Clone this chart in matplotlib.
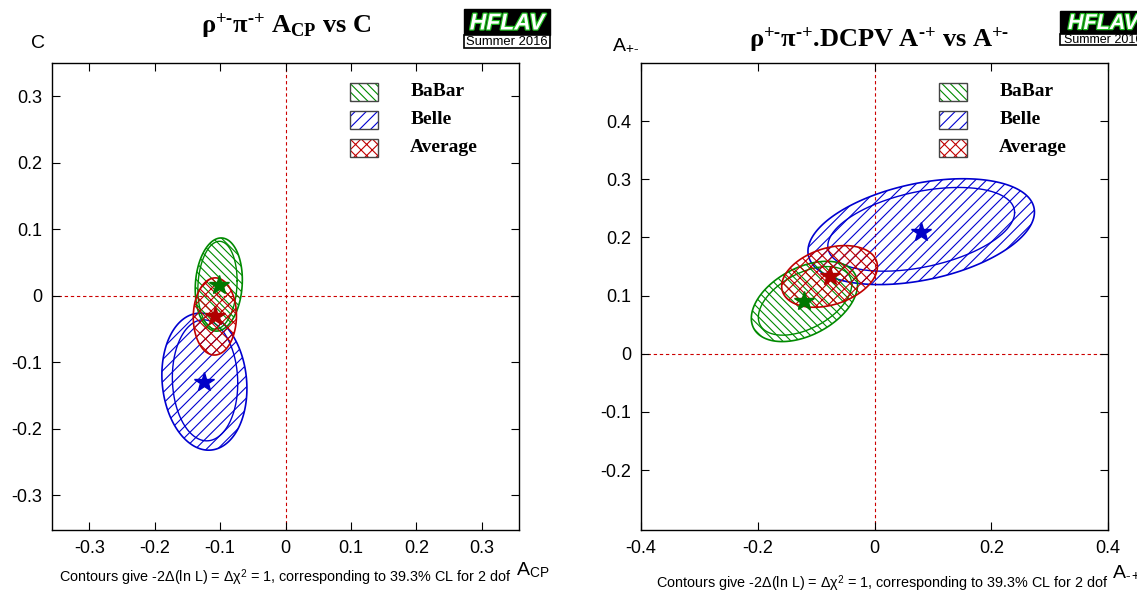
import matplotlib
matplotlib.use('Agg')
import matplotlib.pyplot as plt
import numpy as np
from matplotlib.patches import Rectangle
from matplotlib.ticker import FuncFormatter
import matplotlib.patheffects as pe

plt.rcParams['font.family'] = ['Liberation Sans', 'DejaVu Sans']
plt.rcParams['mathtext.fontset'] = 'custom'
plt.rcParams['mathtext.rm'] = 'Liberation Serif:bold'
plt.rcParams['mathtext.bf'] = 'Liberation Serif:bold'
plt.rcParams['mathtext.it'] = 'Liberation Serif:italic:bold'
plt.rcParams['mathtext.sf'] = 'Liberation Sans'
plt.rcParams['hatch.linewidth'] = 0.8

# experiments
labels = ['BaBar', 'Belle', 'Average']
colors = ['#008a00', '#0000d0', '#c00000']
star_colors = ['#007800', '#0000c8', '#b00000']
hatches = ['\\\\\\\\', '///', 'xxx']

# left plot: A_CP vs C (value, error, correlation)
acp_val = [-0.102, -0.124, -0.108]
c_val = [0.017, -0.129, -0.031]
acp_err = [0.036, 0.065, 0.033]
c_err = [0.070, 0.103, 0.058]
rho_left = [0.10, -0.10, 0.02]
# stat-only contours (BaBar, Belle)
acp_stat_ctr = [-0.104, -0.123]
c_stat_ctr = [0.016, -0.127]
acp_stat = [0.030, 0.050]
c_stat = [0.066, 0.091]
rho_left_stat = [0.10, -0.05]

# right plot: A^-+ (x) vs A^+- (y)
amp_val = [-0.120, 0.080, -0.077]
apm_val = [0.090, 0.210, 0.133]
amp_err = [0.091, 0.194, 0.082]
apm_err = [0.069, 0.091, 0.053]
rho_right = [0.42, 0.37, 0.32]
amp_stat_ctr = [-0.119, 0.080]
apm_stat_ctr = [0.091, 0.214]
amp_stat = [0.080, 0.160]
apm_stat = [0.059, 0.072]
rho_right_stat = [0.48, 0.40]

left_xticks = [-0.3, -0.2, -0.1, 0, 0.1, 0.2, 0.3]
left_yticks = [-0.3, -0.2, -0.1, 0, 0.1, 0.2, 0.3]
right_xticks = [-0.4, -0.2, 0, 0.2, 0.4]
right_yticks = [-0.2, -0.1, 0, 0.1, 0.2, 0.3, 0.4]

footnote = 'Contours give -2\u0394(ln L) = \u0394\u03c7$^{\\mathsf{2}}$ = 1, corresponding to 39.3% CL for 2 dof'


def ellipse(x0, y0, sx, sy, rho):
    t = np.linspace(0, 2 * np.pi, 300)
    x = x0 + sx * np.cos(t)
    y = y0 + sy * (rho * np.cos(t) + np.sqrt(1 - rho ** 2) * np.sin(t))
    return x, y


W, H = 1137, 591
fig = plt.figure(figsize=(W / 100, H / 100), dpi=100)
ax1 = fig.add_axes([52 / W, (H - 530) / H, 467 / W, 467 / H])
ax2 = fig.add_axes([641 / W, (H - 530) / H, 467 / W, 467 / H])

fmt = FuncFormatter(lambda v, p: '0' if abs(v) < 1e-9 else f'{v:g}')


def setup(ax, xl, yl, xt, yt):
    ax.set_xlim(*xl)
    ax.set_ylim(*yl)
    ax.set_xticks(xt)
    ax.set_yticks(yt)
    ax.xaxis.set_major_formatter(fmt)
    ax.yaxis.set_major_formatter(fmt)
    ax.tick_params(direction='in', top=True, right=True, length=6, width=0.8,
                   labelsize=13, pad=7)
    for s in ax.spines.values():
        s.set_linewidth(1.0)
    ax.axhline(0, color='#cc0000', lw=0.8, ls=(0, (3, 2.5)), zorder=1)
    ax.axvline(0, color='#cc0000', lw=0.8, ls=(0, (3, 2.5)), zorder=1)


def draw(ax, xv, yv, xe, ye, rho, xsc, ysc, xs, ys, rhos):
    order = [1, 0, 2]
    for k, i in enumerate(order):
        x, y = ellipse(xv[i], yv[i], xe[i], ye[i], rho[i])
        ax.fill(x, y, facecolor='none', edgecolor=colors[i], hatch=hatches[i],
                lw=1.2, zorder=2 + k)
        if i < 2:
            x, y = ellipse(xsc[i], ysc[i], xs[i], ys[i], rhos[i])
            ax.plot(x, y, color=colors[i], lw=1.0, zorder=2 + k)
    for i in order:
        ax.plot(xv[i], yv[i], marker='*', ms=15, color=star_colors[i],
                mec=star_colors[i], ls='none', zorder=10)


def legend(ax):
    for i, lab in enumerate(labels):
        yc = 0.938 - 0.06 * i
        ax.add_patch(Rectangle((0.638, yc - 0.019), 0.06, 0.038, transform=ax.transAxes,
                               facecolor='none', edgecolor=colors[i], hatch=hatches[i],
                               lw=0, zorder=20))
        ax.add_patch(Rectangle((0.638, yc - 0.019), 0.06, 0.038, transform=ax.transAxes,
                               facecolor='none', edgecolor='#444444', lw=1.0, zorder=21))
        ax.text(0.767, yc, lab, transform=ax.transAxes, va='center', ha='left',
                fontsize=14, fontweight='bold', family='Liberation Serif', zorder=22)


def logo(x0, y0, w, hb, hw, fs1, fs2):
    fig.patches.append(Rectangle((x0 / W, 1 - (y0 + hb) / H), w / W, hb / H,
                                 transform=fig.transFigure, facecolor='black',
                                 edgecolor='black', lw=1))
    fig.patches.append(Rectangle((x0 / W, 1 - (y0 + hb + hw) / H), w / W, hw / H,
                                 transform=fig.transFigure, facecolor='white',
                                 edgecolor='black', lw=1.2))
    fig.text((x0 + w / 2) / W, 1 - (y0 + hb / 2 + 1) / H, 'HFLAV', ha='center', va='center',
             fontsize=fs1, fontweight='bold', style='italic', color='white',
             family='Liberation Sans',
             path_effects=[pe.withStroke(linewidth=1.8, foreground='#1fb81f')])
    fig.text((x0 + w / 2) / W, 1 - (y0 + hb + hw / 2 + 0.5) / H, 'Summer 2016', ha='center',
             va='center', fontsize=fs2, color='black', family='Liberation Sans')


setup(ax1, (-0.357, 0.357), (-0.352, 0.35), left_xticks, left_yticks)
draw(ax1, acp_val, c_val, acp_err, c_err, rho_left,
     acp_stat_ctr, c_stat_ctr, acp_stat, c_stat, rho_left_stat)
legend(ax1)

setup(ax2, (-0.4, 0.4), (-0.303, 0.5), right_xticks, right_yticks)
draw(ax2, amp_val, apm_val, amp_err, apm_err, rho_right,
     amp_stat_ctr, apm_stat_ctr, amp_stat, apm_stat, rho_right_stat)
legend(ax2)

# titles
fig.text(286 / W, 1 - 26 / H,
         r'$\mathrm{\rho}^{\text{+-}}\mathrm{\pi}^{\text{-+}}\text{ A}_{\text{CP}}\text{ vs C}$',
         ha='center', va='center', fontsize=19)
fig.text(879 / W, 1 - 40 / H,
         r'$\mathrm{\rho}^{\text{+-}}\mathrm{\pi}^{\text{-+}}\text{.DCPV A}^{\text{-+}}\text{ vs A}^{\text{+-}}$',
         ha='center', va='center', fontsize=19)

# axis labels
fig.text(38 / W, 1 - 43 / H, 'C', ha='center', va='center', fontsize=14)
fig.text(516 / W, 1 - 570 / H, r'A$_{\mathsf{CP}}$', ha='left', va='center', fontsize=14)
fig.text(612 / W, 1 - 45 / H, r'A$_{\mathsf{+\text{-}}}$', ha='left', va='center', fontsize=14)
fig.text(1112 / W, 1 - 572 / H, r'A$_{\mathsf{\text{-}+}}$', ha='left', va='center', fontsize=14)

# footnotes
fig.text(285 / W, 1 - 578 / H, footnote, ha='center', va='center', fontsize=10.4)
fig.text(882 / W, 1 - 584 / H, footnote, ha='center', va='center', fontsize=10.4)

logo(464, 9, 86, 26, 13, 16.5, 9.4)
logo(1060, 11, 86, 23, 11, 15.5, 9)

fig.savefig('out.png', dpi=100)
